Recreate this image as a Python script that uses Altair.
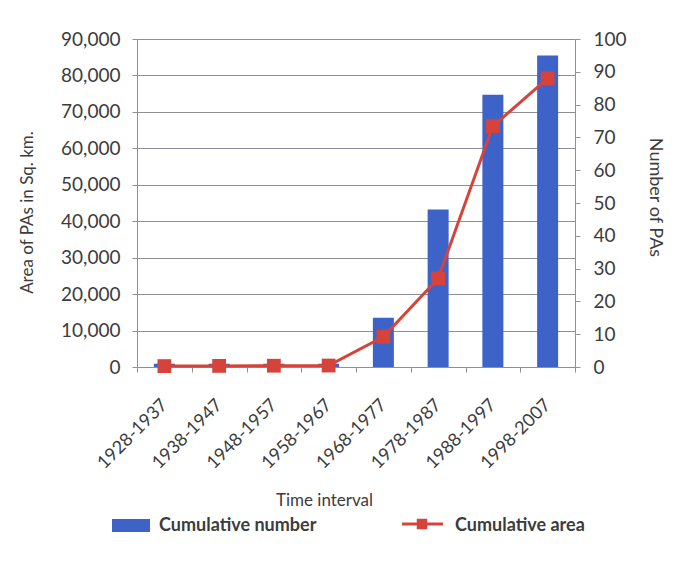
import altair as alt
import pandas as pd

intervals = ["1928-1937", "1938-1947", "1948-1957", "1958-1967",
             "1968-1977", "1978-1987", "1988-1997", "1998-2007"]
cum_number = [1, 1, 1, 1, 15, 48, 83, 95]
cum_area = [250, 300, 350, 400, 8300, 24300, 66100, 79200]
series_names = ["Cumulative number", "Cumulative area"]
area_ticks = [0, 10000, 20000, 30000, 40000, 50000, 60000, 70000, 80000, 90000]
number_ticks = [0, 10, 20, 30, 40, 50, 60, 70, 80, 90, 100]

df = pd.DataFrame({"interval": intervals, "number": cum_number, "area": cum_area})

FONT = "Lato"
BLUE = "#3d63c9"
RED = "#d5433a"
TXT = "#3c3c3c"
GRID = "#8f8f9c"

x_enc = alt.X(
    "interval:N", sort=intervals,
    scale=alt.Scale(paddingInner=0, paddingOuter=0),
    axis=alt.Axis(
        title="Time interval", labelAngle=-45, labelAlign="right", labelBaseline="middle",
        labelPadding=30, tickBand="extent", tickSize=5, labelFontSize=18,
        titleFontSize=17, titleFontWeight="normal", titleX=187, titleY=133,
        titleBaseline="middle", domainColor=GRID, tickColor=GRID,
    ),
)

base = alt.Chart(df).encode(x=x_enc)

bars = base.mark_bar(size=21, color=BLUE).encode(
    y=alt.Y("number:Q", scale=alt.Scale(domain=[0, 100], nice=False),
            axis=alt.Axis(orient="right", values=number_ticks, grid=False,
                          title="Number of PAs", titleAngle=90, titleX=79, titleY=158,
                          titleBaseline="middle", titleAlign="center",
                          labelFontSize=19, titleFontSize=18, titleFontWeight="normal",
                          tickSize=5, labelPadding=13, domainColor=GRID, tickColor=GRID))
)

line = base.mark_line(color=RED, strokeWidth=3).encode(
    y=alt.Y("area:Q", scale=alt.Scale(domain=[0, 90000], nice=False),
            axis=alt.Axis(orient="left", values=area_ticks, format=",.0f", grid=True,
                          gridColor=GRID, gridWidth=1,
                          title="Area of PAs in Sq. km.", titleAngle=-90, titleX=-110,
                          titleY=173, titleBaseline="middle", titleAlign="center",
                          labelFontSize=19, titleFontSize=17, titleFontWeight="normal",
                          tickSize=5, labelPadding=12, domainColor=GRID, tickColor=GRID))
)

points = base.mark_point(shape="square", filled=True, size=190, color=RED, opacity=1).encode(
    y=alt.Y("area:Q", scale=alt.Scale(domain=[0, 90000], nice=False), axis=None)
)

one = pd.DataFrame({"k": [0]})
leg_rect = alt.Chart(one).mark_rect(color=BLUE).encode(
    x=alt.value(-25), x2=alt.value(13), y=alt.value(480), y2=alt.value(493))
leg_text1 = alt.Chart(one).mark_text(
    text=series_names[0], font=FONT, fontSize=18, fontWeight="bold", color=TXT,
    align="left", baseline="middle").encode(x=alt.value(22), y=alt.value(487))
leg_line = alt.Chart(one).mark_rule(color=RED, strokeWidth=3).encode(
    x=alt.value(265), x2=alt.value(306), y=alt.value(485))
leg_pt = alt.Chart(one).mark_point(shape="square", filled=True, size=110, color=RED, opacity=1).encode(
    x=alt.value(285), y=alt.value(485))
leg_text2 = alt.Chart(one).mark_text(
    text=series_names[1], font=FONT, fontSize=18, fontWeight="bold", color=TXT,
    align="left", baseline="middle").encode(x=alt.value(318), y=alt.value(487))

chart = alt.layer(bars, line, points, leg_rect, leg_text1, leg_line, leg_pt, leg_text2).resolve_scale(
    y="independent"
).properties(
    width=438, height=328,
    padding={"left": 137, "top": 39, "right": 106, "bottom": 207},
    autosize=alt.AutoSizeParams(type="none"),
    background="white",
).configure_view(stroke=None).configure_axis(
    labelFont=FONT, titleFont=FONT, labelColor=TXT, titleColor=TXT,
)

chart.save("out.html", embed_options={"renderer": "svg", "actions": False})
